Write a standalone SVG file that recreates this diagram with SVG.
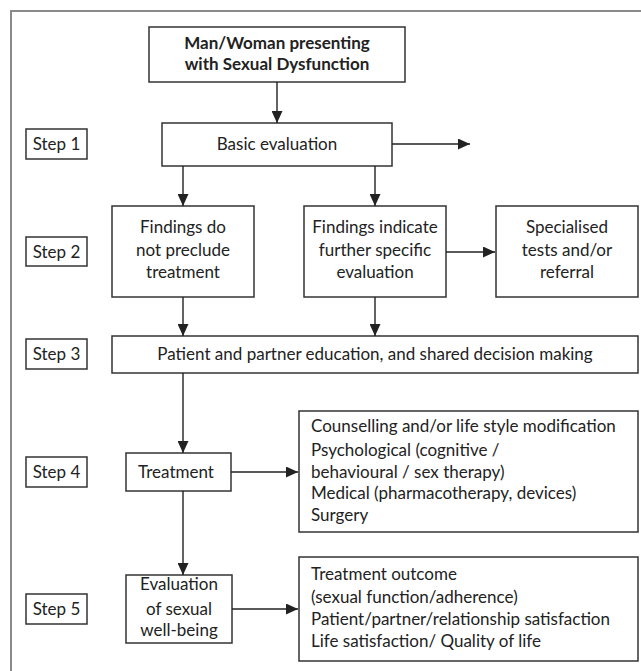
<svg xmlns="http://www.w3.org/2000/svg" width="641" height="671" viewBox="0 0 641 671">
<style>
.frame{fill:none;stroke:#8a8a8a;stroke-width:2}
.box{fill:#fff;stroke:#333;stroke-width:1.5}
.t{font-family:Lato,"Open Sans","Liberation Sans",sans-serif;font-size:17px;fill:#222}
.c{text-anchor:middle}
.b{font-weight:bold}
.conn line{stroke:#222;stroke-width:1.4;marker-end:url(#ah)}
</style>
<defs>
<marker id="ah" markerUnits="userSpaceOnUse" markerWidth="12" markerHeight="11" refX="12" refY="5.5" orient="auto">
<path d="M0,0 L12,5.5 L0,11 z" fill="#222"/>
</marker>
</defs>
<rect width="641" height="671" fill="#fff"/>
<rect class="frame" x="11" y="11" width="700" height="700"/>

<g id="steps">
<g id="step1"><rect class="box" x="26" y="129" width="61" height="30"/><text class="t c" x="56.5" y="150">Step 1</text></g>
<g id="step2"><rect class="box" x="26" y="237" width="61" height="29"/><text class="t c" x="56.5" y="257.5">Step 2</text></g>
<g id="step3"><rect class="box" x="26" y="339" width="61" height="30"/><text class="t c" x="56.5" y="360">Step 3</text></g>
<g id="step4"><rect class="box" x="26" y="457" width="61" height="30"/><text class="t c" x="56.5" y="478">Step 4</text></g>
<g id="step5"><rect class="box" x="26" y="594" width="61" height="30"/><text class="t c" x="56.5" y="615">Step 5</text></g>
</g>

<g id="start"><rect class="box" x="149" y="27" width="256" height="55"/>
<text class="t c b" x="277" y="49">Man/Woman presenting</text>
<text class="t c b" x="277" y="69.5">with Sexual Dysfunction</text></g>

<g id="basic"><rect class="box" x="162" y="123" width="230" height="43"/>
<text class="t c" x="277" y="150">Basic evaluation</text></g>

<g id="findings1"><rect class="box" x="112" y="206" width="142" height="91"/>
<text class="t c" x="183" y="233">Findings do</text>
<text class="t c" x="183" y="256">not preclude</text>
<text class="t c" x="183" y="278">treatment</text></g>

<g id="findings2"><rect class="box" x="304" y="206" width="142" height="91"/>
<text class="t c" x="375" y="233">Findings indicate</text>
<text class="t c" x="375" y="256">further specific</text>
<text class="t c" x="375" y="278">evaluation</text></g>

<g id="specialised"><rect class="box" x="496" y="206" width="142" height="91"/>
<text class="t c" x="567" y="233">Specialised</text>
<text class="t c" x="567" y="256">tests and/or</text>
<text class="t c" x="567" y="278">referral</text></g>

<g id="education"><rect class="box" x="112" y="336" width="526" height="37"/>
<text class="t c" x="375" y="360">Patient and partner education, and shared decision making</text></g>

<g id="treatment"><rect class="box" x="126" y="453" width="105" height="38"/>
<text class="t c" x="176" y="478">Treatment</text></g>

<g id="options"><rect class="box" x="299" y="411" width="339" height="121"/>
<text class="t" x="311" y="432">Counselling and/or life style modification</text>
<text class="t" x="311" y="456">Psychological (cognitive /</text>
<text class="t" x="311" y="478">behavioural / sex therapy)</text>
<text class="t" x="311" y="499">Medical (pharmacotherapy, devices)</text>
<text class="t" x="311" y="521">Surgery</text></g>

<g id="wellbeing"><rect class="box" x="126" y="575" width="106" height="68"/>
<text class="t c" x="179" y="590">Evaluation</text>
<text class="t c" x="179" y="614.5">of sexual</text>
<text class="t c" x="179" y="636">well-being</text></g>

<g id="outcomes"><rect class="box" x="299" y="557" width="339" height="104"/>
<text class="t" x="311" y="580">Treatment outcome</text>
<text class="t" x="311" y="603">(sexual function/adherence)</text>
<text class="t" x="311" y="624.5">Patient/partner/relationship satisfaction</text>
<text class="t" x="311" y="647">Life satisfaction/ Quality of life</text></g>

<g id="connectors" class="conn">
<line x1="277" y1="82" x2="277" y2="123"/>
<line x1="392" y1="144" x2="470" y2="144"/>
<line x1="183" y1="166" x2="183" y2="206"/>
<line x1="375" y1="166" x2="375" y2="206"/>
<line x1="446" y1="252" x2="495" y2="252"/>
<line x1="183" y1="297" x2="183" y2="336"/>
<line x1="375" y1="297" x2="375" y2="336"/>
<line x1="183" y1="373" x2="183" y2="453"/>
<line x1="231" y1="472" x2="298" y2="472"/>
<line x1="183" y1="491" x2="183" y2="575"/>
<line x1="232" y1="609" x2="298" y2="609"/>
</g>
</svg>
